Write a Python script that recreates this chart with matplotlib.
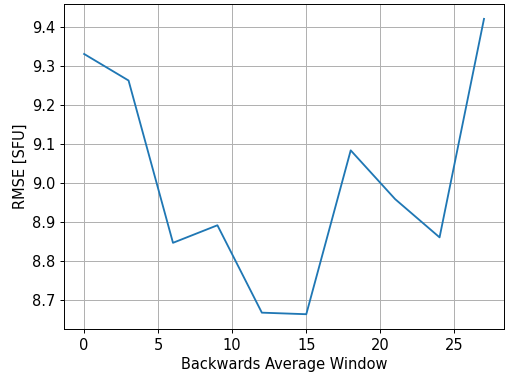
import matplotlib
matplotlib.use('Agg')
import matplotlib.pyplot as plt

# Backwards average window sizes and the RMSE at each one
window = [0, 3, 6, 9, 12, 15, 18, 21, 24, 27]
rmse = [9.330, 9.262, 8.846, 8.891, 8.667, 8.663, 9.083, 8.958, 8.860, 9.420]

plt.rcParams.update({'font.size': 12})

dpi = 88
fig, ax = plt.subplots(figsize=(505 / dpi, 373 / dpi), dpi=dpi)
ax.plot(window, rmse)
ax.grid(True)
ax.set_xlabel('Backwards Average Window')
ax.set_ylabel('RMSE [SFU]')
fig.subplots_adjust(left=0.127, right=0.998, top=0.989, bottom=0.118)

fig.savefig('out.png', dpi=dpi)
